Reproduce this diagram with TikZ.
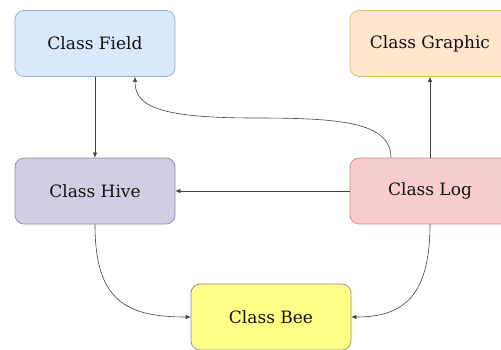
\documentclass[tikz,border=0pt]{standalone}
\usepackage{fontspec}
\setmainfont{DejaVu Serif}
\usetikzlibrary{arrows.meta}
\definecolor{fieldfill}{HTML}{DAE8FC}\definecolor{fielddraw}{HTML}{8FAAD4}
\definecolor{graphfill}{HTML}{FFE6CC}\definecolor{graphdraw}{HTML}{E5BE5A}
\definecolor{hivefill}{HTML}{D0CEE2}\definecolor{hivedraw}{HTML}{8E8AAE}
\definecolor{logfill}{HTML}{F8CECC}\definecolor{logdraw}{HTML}{D08886}
\definecolor{beefill}{HTML}{FFFF88}\definecolor{beedraw}{HTML}{8A8B8C}
\definecolor{txt}{HTML}{111111}
\definecolor{edge}{HTML}{404040}
\begin{document}
\begin{tikzpicture}[x=1pt,y=-1pt,
  cls/.style={rectangle,rounded corners=9pt,minimum width=160pt,minimum height=66pt,
    line width=0.7pt,text=txt,font=\fontsize{17}{20}\selectfont,inner sep=0pt},
  conn/.style={draw=edge,line width=0.6pt,-{Latex[length=5pt,width=4.5pt]}}]
\useasboundingbox (0,0) rectangle (501,349);
\node[cls,fill=fieldfill,draw=fielddraw] (field) at (95,43.5) {Class Field};
\node[cls,fill=graphfill,draw=graphdraw] (graphic) at (430,43.5) {Class Graphic};
\node[cls,fill=hivefill,draw=hivedraw] (hive) at (95,191) {Class Hive};
\node[cls,fill=logfill,draw=logdraw] (log) at (430,191) {Class Log};
\node[cls,fill=beefill,draw=beedraw] (bee) at (271,317) {Class Bee};
\coordinate (mid) at (255,118);
\draw[conn] (field.south) -- (hive.north);
\draw[conn] (log.west) -- (hive.east);
\draw[conn] (log.north) -- (graphic.south);
\draw[conn] (log.north west -| 391,0) .. controls (391,122) and (340,118) .. (mid)
  .. controls (155,118) and (135,105) .. (field.south east -| 135,0);
\draw[conn] (hive.south) .. controls (95,300) and (125,317) .. (bee.west);
\draw[conn] (log.south) .. controls (430,300) and (400,317) .. (bee.east);
\end{tikzpicture}
\end{document}
